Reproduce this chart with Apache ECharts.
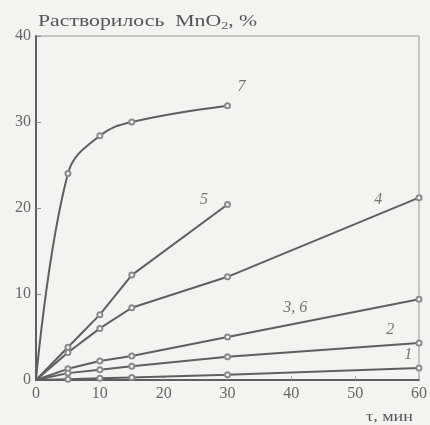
<!DOCTYPE html>
<html>
<head>
<meta charset="utf-8">
<script src="https://cdn.jsdelivr.net/npm/echarts@6/dist/echarts.min.js"></script>
<style>html,body{margin:0;padding:0;background:#f3f3f1;}#c{width:430px;height:425px;}</style>
</head>
<body>
<div id="c"></div>
<script>
const xTicks = [0, 10, 20, 30, 40, 50, 60];
const yTicks = [0, 10, 20, 30, 40];
const curve7 = [[0, 0], [5, 24], [10, 28.4], [15, 30], [30, 31.9]];
const curve5 = [[0, 0], [5, 3.8], [10, 7.6], [15, 12.2], [30, 20.4]];
const curve4 = [[0, 0], [5, 3.2], [10, 6], [15, 8.4], [30, 12], [60, 21.2]];
const curve36 = [[0, 0], [5, 1.3], [10, 2.2], [15, 2.8], [30, 5], [60, 9.4]];
const curve2 = [[0, 0], [5, 0.8], [10, 1.2], [15, 1.6], [30, 2.7], [60, 4.3]];
const curve1 = [[0, 0], [5, 0.1], [10, 0.2], [15, 0.3], [30, 0.6], [60, 1.4]];
const curveLabels = [[32.2, 34.1, '7'], [26.3, 20.9, '5'], [53.6, 20.9, '4'], [40.6, 8.4, '3, 6'], [55.5, 5.8, '2'], [58.3, 2.9, '1']];

const chart = echarts.init(document.getElementById('c'), null, {renderer: 'canvas'});
const ink = '#5f5f5f';
const serif = '"Liberation Serif", "DejaVu Serif", serif';

function lineSeries(name, data, smooth) {
  return {
    name: name, type: 'line', smooth: smooth,
    data: data.map((p, i) => i === 0 ? {value: p, symbol: 'none'} : {value: p}),
    symbol: 'emptyCircle', symbolSize: 5,
    itemStyle: {color: '#8a8a8a', borderWidth: 1},
    lineStyle: {color: ink, width: 2},
    z: 3
  };
}

chart.setOption({
  backgroundColor: '#f3f3f1',
  animation: false,
  grid: {left: 36, right: 9, top: 36, bottom: 45, show: true, borderColor: '#999', borderWidth: 1, backgroundColor: 'transparent'},
  xAxis: {
    type: 'value', min: 0, max: 60, interval: 10,
    axisLine: {lineStyle: {color: ink, width: 2}},
    axisTick: {show: true, inside: true, length: 4, lineStyle: {color: '#aaa'}},
    splitLine: {show: false},
    axisLabel: {color: '#666', fontFamily: serif, fontSize: 16, margin: 6,
      formatter: v => xTicks.includes(v) ? String(v) : ''}
  },
  yAxis: {
    type: 'value', min: 0, max: 40, interval: 10,
    axisLine: {lineStyle: {color: ink, width: 2}},
    axisTick: {show: true, inside: true, length: 5, lineStyle: {color: '#888'}},
    splitLine: {show: false},
    axisLabel: {color: '#666', fontFamily: serif, fontSize: 16, margin: 5,
      formatter: v => yTicks.includes(v) ? String(v) : ''}
  },
  graphic: [
    {type: 'text', x: 38, y: 12, scaleX: 1.28, style: {
      text: '{a|Растворилось  MnO}{s|2}{a|, %}',
      rich: {
        a: {fontFamily: serif, fontSize: 17, fill: '#555'},
        s: {fontFamily: serif, fontSize: 11, fill: '#555', padding: [9, 0, 0, 0]}
      }
    }},
    {type: 'text', x: 366, y: 410, scaleX: 1.2, style: {text: 'τ, мин', fontFamily: serif, fontSize: 15, fill: '#555'}}
  ],
  series: [
    lineSeries('7', curve7, 0.4),
    lineSeries('5', curve5, false),
    lineSeries('4', curve4, false),
    lineSeries('3, 6', curve36, false),
    lineSeries('2', curve2, false),
    lineSeries('1', curve1, false),
    {
      type: 'scatter', data: curveLabels, symbolSize: 0,
      label: {show: true, position: 'inside', formatter: p => p.data[2],
        fontFamily: serif, fontStyle: 'italic', fontSize: 16, color: '#555'},
      z: 4
    }
  ]
});
</script>
</body>
</html>
